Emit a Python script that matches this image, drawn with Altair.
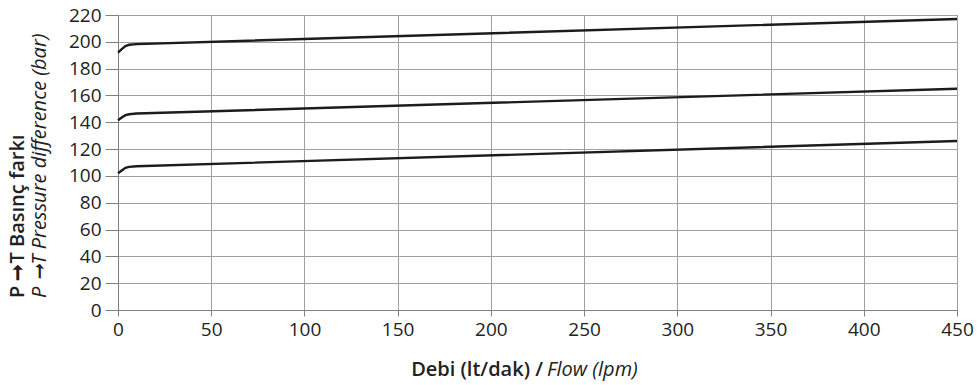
import altair as alt
import pandas as pd

flow = [0, 2, 4, 6, 10, 450]
upper = [192, 194.5, 196.8, 197.8, 198.3, 217]
middle = [141.5, 143.5, 145.3, 146, 146.5, 165]
lower = [102, 104, 106, 106.7, 107.2, 126]

x_ticks = [0, 50, 100, 150, 200, 250, 300, 350, 400, 450]
y_ticks = [0, 20, 40, 60, 80, 100, 120, 140, 160, 180, 200, 220]

rows = []
for name, vals in [("upper", upper), ("middle", middle), ("lower", lower)]:
    for f, v in zip(flow, vals):
        rows.append({"flow": f, "pressure": v, "series": name})
df = pd.DataFrame(rows)

FONT = "Open Sans"
W, H = 839, 295

xs = alt.Scale(domain=[0, 450], nice=False, zero=False)
ys = alt.Scale(domain=[0, 220], nice=False)

lines = alt.Chart(df).mark_line(color="#1c1c1c", strokeWidth=2.4).encode(
    x=alt.X("flow:Q", scale=xs,
            axis=alt.Axis(values=x_ticks, title=None, grid=True, gridColor="#a0a0a0",
                          gridWidth=1, gridOpacity=1, domainColor="#808080",
                          tickColor="#808080", tickSize=6, labelFontSize=19,
                          labelFont=FONT, labelColor="#222", labelPadding=4,
                          labelFlush=False)),
    y=alt.Y("pressure:Q", scale=ys,
            axis=alt.Axis(values=y_ticks, title=None, grid=True, gridColor="#a0a0a0",
                          gridWidth=1, gridOpacity=1, domainColor="#808080",
                          tickColor="#808080", tickSize=13, labelFontSize=19,
                          labelFont=FONT, labelColor="#222", labelPadding=4)),
    detail="series:N",
)

ytitle1 = alt.Chart(pd.DataFrame({"t": ["P \u279eT Basın\u00e7 farkı"]})).mark_text(
    angle=270, fontSize=20, font=FONT, fontWeight=600, color="#222", align="left", baseline="middle"
).encode(text="t:N", x=alt.value(-100), y=alt.value(283))

ytitle2 = alt.Chart(pd.DataFrame({"t": ["P \u279eT Pressure difference (bar)"]})).mark_text(
    angle=270, fontSize=20, font=FONT, fontStyle="italic", color="#222", align="left", baseline="middle"
).encode(text="t:N", x=alt.value(-78), y=alt.value(283))

xtitle1 = alt.Chart(pd.DataFrame({"t": ["Debi (lt/dak) /"]})).mark_text(
    fontSize=20, font=FONT, fontWeight=600, color="#222", align="right", baseline="alphabetic"
).encode(text="t:N", x=alt.value(425), y=alt.value(361))

xtitle2 = alt.Chart(pd.DataFrame({"t": ["Flow (lpm)"]})).mark_text(
    fontSize=20, font=FONT, fontStyle="italic", color="#222", align="left", baseline="alphabetic"
).encode(text="t:N", x=alt.value(429), y=alt.value(361))

chart = alt.layer(lines, ytitle1, ytitle2, xtitle1, xtitle2).properties(
    width=W, height=H,
    autosize=alt.AutoSizeParams(type="none"),
    padding={"left": 118, "top": 15, "right": 20, "bottom": 75},
    background="white",
).configure_view(stroke="#a0a0a0", strokeWidth=1)

chart.save("out.html", embed_options={"renderer": "svg", "actions": False})
